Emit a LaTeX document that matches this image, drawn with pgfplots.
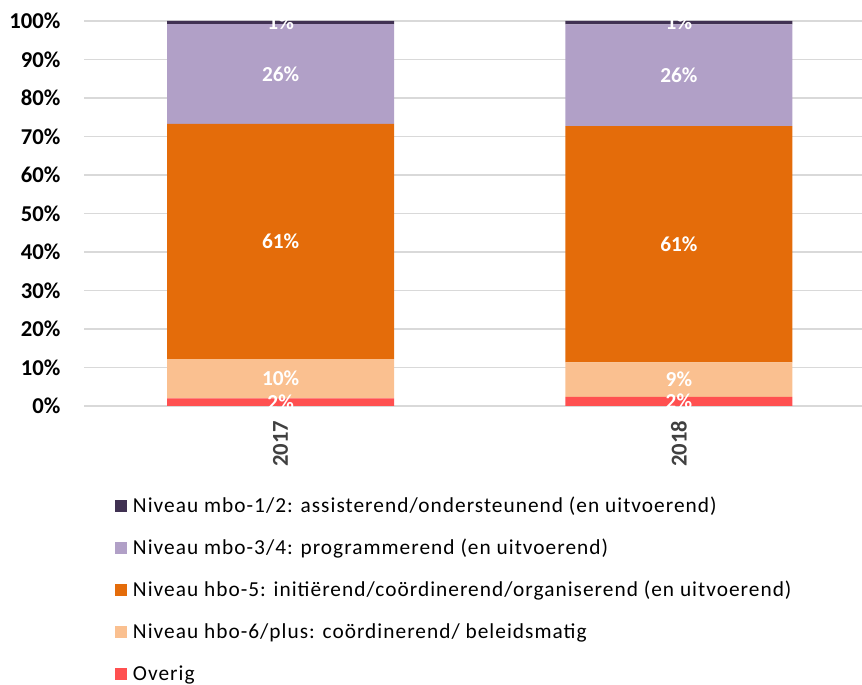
\documentclass[border=0pt]{standalone}
\usepackage{pgfplots}
\pgfplotsset{compat=1.18}
\usepackage{pgfplotstable}
\usepackage{fontspec}
\setmainfont{Carlito}
\newfontfamily\legfont[LetterSpace=4.8]{Carlito}
\definecolor{cA}{HTML}{403152}
\definecolor{cB}{HTML}{B1A0C7}
\definecolor{cC}{HTML}{E46C0A}
\definecolor{cD}{HTML}{FAC090}
\definecolor{cE}{HTML}{FF5050}
\definecolor{gridc}{HTML}{D9D9D9}
\definecolor{xtc}{HTML}{404040}
\pgfplotstableread{
x ov hbo6 hbo5 mbo34 mbo12
0 2.0 10.2 61.1 25.9 0.8
1 2.4 8.9 61.4 26.4 0.9
}\data
\begin{document}
\begin{tikzpicture}[x=1pt,y=1pt]
\useasboundingbox (0,0) rectangle (646.5,513);
\begin{axis}[
  at={(63pt,208.5pt)}, anchor=south west,
  scale only axis, width=595.5pt, height=288.75pt,
  ybar stacked, bar width=170.25pt,
  xmin=-0.4937, xmax=1.5, ymin=0, ymax=100,
  xtick=data, xticklabels={2017,2018},
  ytick={0,10,...,100},
  yticklabel={\pgfmathprintnumber{\tick}\%},
  /pgf/number format/assume math mode=true,
  axis line style={draw=none},
  major tick length=0pt,
  ymajorgrids, grid style={gridc, line width=1pt},
  yticklabel style={font=\fontsize{17}{17}\selectfont\bfseries, text=black, inner sep=0pt},
  yticklabel shift=17.5pt,
  xticklabel style={font=\fontsize{17}{17}\selectfont\bfseries, text=xtc, rotate=90, anchor=east, inner sep=0pt},
  xticklabel shift=11pt,
  point meta=explicit,
  nodes near coords={\pgfmathprintnumber[fixed,precision=0]{\pgfplotspointmeta}\%},
  every node near coord/.append style={font=\fontsize{16}{16}\selectfont\bfseries, text=white, anchor=center},
  legend style={at={(axis description cs:0.039,-0.2416)}, anchor=north west, draw=none, fill=none, inner sep=0pt, outer sep=0pt, row sep=18.5pt, column sep=4.5pt, font=\fontsize{16}{16}\selectfont\legfont, nodes={inner sep=0pt, text height=10pt, text depth=3pt}},
  legend cell align=left,
  reverse legend,
  legend image code/.code={\fill[#1] (0pt,-3.5pt) rectangle (9pt,5.5pt);},
]
\addplot[fill=cE, draw=none] table[x=x,y=ov,meta=ov] {\data};
\addlegendentry{Overig}
\addplot[fill=cD, draw=none] table[x=x,y=hbo6,meta=hbo6] {\data};
\addlegendentry{Niveau hbo-6/plus: coördinerend/ beleidsmatig}
\addplot[fill=cC, draw=none] table[x=x,y=hbo5,meta=hbo5] {\data};
\addlegendentry{Niveau hbo-5: initiërend/coördinerend/organiserend (en uitvoerend)}
\addplot[fill=cB, draw=none] table[x=x,y=mbo34,meta=mbo34] {\data};
\addlegendentry{Niveau mbo-3/4: programmerend (en uitvoerend)}
\addplot[fill=cA, draw=none] table[x=x,y=mbo12,meta=mbo12] {\data};
\addlegendentry{Niveau mbo-1/2: assisterend/ondersteunend (en uitvoerend)}
\end{axis}
\end{tikzpicture}
\end{document}
